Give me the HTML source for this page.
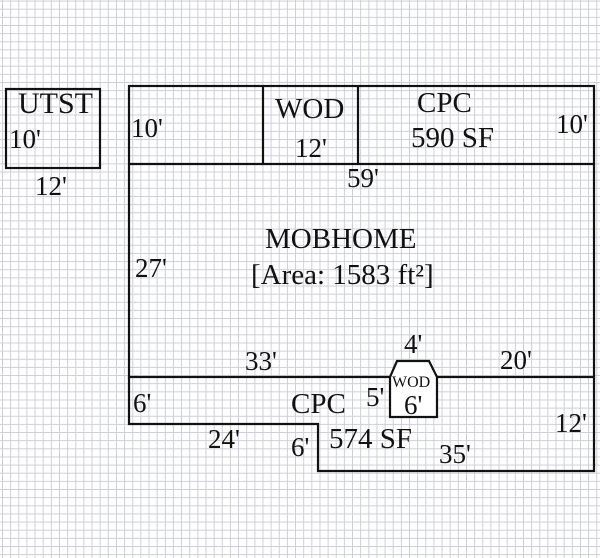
<!DOCTYPE html>
<html><head><meta charset="utf-8"><style>
html,body{margin:0;padding:0;}
body{width:600px;height:558px;overflow:hidden;background:#fff;
background-image:linear-gradient(to right,#cdcdda 1px,transparent 1px),linear-gradient(to bottom,#cdcdda 1px,transparent 1px);
background-size:8.15px 8.15px;background-position:2px 0.6px;}
svg{position:absolute;left:0;top:0;}
text{font-family:"Liberation Serif",serif;fill:#111;}
</style></head><body>
<svg width="600" height="558" viewBox="0 0 600 558">
<g fill="none" stroke="#111" stroke-width="2.2">
<rect x="6" y="89" width="94" height="79"/>
<rect x="129" y="86" width="465" height="291"/>
<line x1="129" y1="164" x2="594" y2="164"/>
<line x1="263" y1="86" x2="263" y2="164"/>
<line x1="358" y1="86" x2="358" y2="164"/>
<polyline points="129,377 129,424 318,424 318,471 594,471 594,377"/>
<polygon points="397,361 429,361 437,377 437,417 390,417 390,377" fill="#fff"/>
</g>
<text x="18" y="113" font-size="30">UTST</text>
<text x="9" y="148" font-size="27">10'</text>
<text x="35" y="195" font-size="27">12'</text>
<text x="131" y="137" font-size="27">10'</text>
<text x="275" y="118" font-size="29">WOD</text>
<text x="295" y="157" font-size="27">12'</text>
<text x="417" y="112" font-size="29">CPC</text>
<text x="411" y="147" font-size="29">590 SF</text>
<text x="556" y="133" font-size="27">10'</text>
<text x="347" y="187" font-size="27">59'</text>
<text x="265" y="248" font-size="29">MOBHOME</text>
<text x="251" y="284" font-size="29">[Area: 1583 ft²]</text>
<text x="135" y="277" font-size="27">27'</text>
<text x="245" y="370" font-size="27">33'</text>
<text x="404" y="353" font-size="27">4'</text>
<text x="500" y="369" font-size="27">20'</text>
<text x="392" y="387" font-size="16">WOD</text>
<text x="366" y="406" font-size="27">5'</text>
<text x="404" y="414" font-size="27">6'</text>
<text x="133" y="412" font-size="27">6'</text>
<text x="291" y="413" font-size="29">CPC</text>
<text x="208" y="448" font-size="27">24'</text>
<text x="291" y="456" font-size="27">6'</text>
<text x="329" y="448" font-size="29">574 SF</text>
<text x="439" y="463" font-size="27">35'</text>
<text x="555" y="432" font-size="27">12'</text>
</svg>
</body></html>
